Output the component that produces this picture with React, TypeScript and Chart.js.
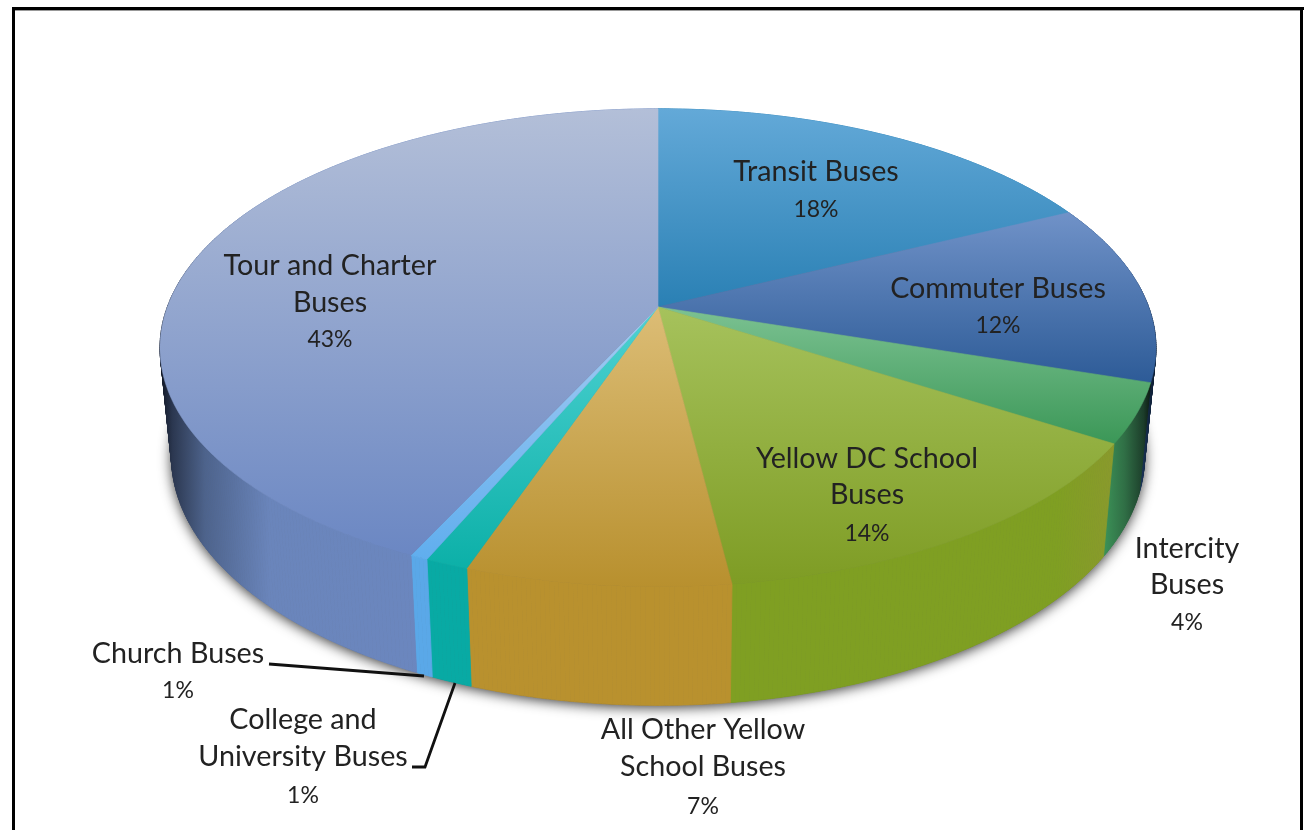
import React, { useEffect, useRef } from "react";
import { Chart, registerables } from "chart.js";

Chart.register(...registerables);

// ---- data ----
const categories = [
  "Transit Buses",
  "Commuter Buses",
  "Intercity Buses",
  "Yellow DC School Buses",
  "All Other Yellow School Buses",
  "College and University Buses",
  "Church Buses",
  "Tour and Charter Buses",
];
const shares = [17.8, 12.2, 4, 14, 7.3, 1.2, 0.5, 43];
const nameLines = [
  ["Transit Buses"],
  ["Commuter Buses"],
  ["Intercity", "Buses"],
  ["Yellow DC School", "Buses"],
  ["All Other Yellow", "School Buses"],
  ["College and", "University Buses"],
  ["Church Buses"],
  ["Tour and Charter", "Buses"],
];

// ---- styles ----
const topLight = ["#63a9d8", "#7092c8", "#7cc292", "#a6c25c", "#dcbd76", "#4fd2d2", "#a4ccf2", "#b3bfd8"];
const topDark = ["#2a80b4", "#2d5b97", "#3b9757", "#7e9c24", "#b8902e", "#0cb0a8", "#60aeee", "#6b87c3"];
const wallStops: [number, string][][] = [
  [[0, "#2a80b4"], [1, "#2a80b4"]],
  [[0, "#2d5b97"], [0.7, "#24487a"], [1, "#0d1c30"]],
  [[0, "#3c9458"], [0.45, "#2f6f45"], [0.85, "#1c3d2a"], [1, "#0c1a12"]],
  [[0, "#7f9f22"], [0.85, "#7f9f22"], [1, "#8a9a2c"]],
  [[0, "#b9912e"], [1, "#b9912e"]],
  [[0, "#08aaa4"], [1, "#08aaa4"]],
  [[0, "#5aa8e8"], [1, "#5aa8e8"]],
  [[0, "#0f1522"], [0.025, "#2b3750"], [0.09, "#4d638c"], [0.22, "#6a85bb"], [1, "#6d89c4"]],
];
const labelPlace: [number, number[]][] = [
  [816, [172, 210]],
  [998, [289, 326]],
  [1187, [549, 585, 623]],
  [867, [459, 495, 534]],
  [703, [730, 767, 807]],
  [303, [720, 757, 796]],
  [178, [654, 691]],
  [330, [266, 303, 340]],
];

// ---- perspective of the disc ----
const CX = 658;
const P = 0.1705;
const topDisc = { cy: 307, rx: 490.7, ry: 232 };
const baseDisc = { cy: 414, rx: 479.4, ry: 241.7 };

function project(disc: typeof topDisc, angle: number): [number, number] {
  const th = angle + Math.PI / 2;
  const w = 1 + P * Math.cos(th);
  return [CX + (disc.rx * Math.sin(th)) / w, disc.cy - (disc.ry * Math.cos(th)) / w];
}

function arcPoints(disc: typeof topDisc, a0: number, a1: number) {
  const n = Math.max(4, Math.ceil(Math.abs(a1 - a0) * 120));
  const pts: [number, number][] = [];
  for (let i = 0; i <= n; i++) pts.push(project(disc, a0 + ((a1 - a0) * i) / n));
  return pts;
}

function trace(ctx: CanvasRenderingContext2D, pts: [number, number][]) {
  ctx.beginPath();
  pts.forEach((p, i) => (i ? ctx.lineTo(p[0], p[1]) : ctx.moveTo(p[0], p[1])));
  ctx.closePath();
}

const disc3d = {
  id: "disc3d",
  beforeDatasetsDraw(chart: any) {
    const ctx: CanvasRenderingContext2D = chart.ctx;
    const arcs = chart.getDatasetMeta(0).data;
    ctx.save();

    // soft shadow under the disc
    ctx.save();
    ctx.shadowColor = "rgba(0,0,0,0.8)";
    ctx.shadowBlur = 13;
    ctx.shadowOffsetX = 0;
    ctx.shadowOffsetY = 2;
    ctx.fillStyle = "#555";
    trace(ctx, arcPoints(baseDisc, -Math.PI / 2, Math.PI * 1.5));
    ctx.fill();
    ctx.restore();

    // walls: a strip of quads between the rim and the base, so the silhouette is the full hull
    arcs.forEach((arc: any, i: number) => {
      const top = arcPoints(topDisc, arc.startAngle, arc.endAngle);
      const low = arcPoints(baseDisc, arc.startAngle, arc.endAngle);
      const xs = top.concat(low).map((p) => p[0]);
      const g = ctx.createLinearGradient(Math.min(...xs), 0, Math.max(...xs) + 0.01, 0);
      wallStops[i].forEach(([s, c]) => g.addColorStop(s, c));
      ctx.fillStyle = g;
      ctx.strokeStyle = g;
      ctx.lineWidth = 0.8;
      for (let k = 0; k < top.length - 1; k++) {
        trace(ctx, [top[k], top[k + 1], low[k + 1], low[k]]);
        ctx.fill();
        ctx.stroke();
      }
    });

    // top faces
    arcs.forEach((arc: any, i: number) => {
      const rim = arcPoints(topDisc, arc.startAngle, arc.endAngle);
      const centre: [number, number] = [CX, topDisc.cy];
      const poly = [centre, ...rim];
      const ys = poly.map((p) => p[1]);
      const g = ctx.createLinearGradient(0, Math.min(...ys), 0, Math.max(...ys));
      g.addColorStop(0, topLight[i]);
      g.addColorStop(1, topDark[i]);
      ctx.fillStyle = g;
      trace(ctx, poly);
      ctx.fill();
      ctx.strokeStyle = g;
      ctx.lineWidth = 0.6;
      ctx.stroke();
    });
    ctx.restore();
    return false;
  },
  afterDraw(chart: any) {
    const ctx: CanvasRenderingContext2D = chart.ctx;
    const values: number[] = chart.data.datasets[0].data;
    ctx.save();

    // frame
    ctx.fillStyle = "#000";
    ctx.fillRect(12, 7, 1292, 3);
    ctx.fillRect(12, 7, 3, 823);
    ctx.fillRect(1300, 7, 3, 823);
    ctx.fillStyle = "#999";
    ctx.fillRect(15, 10, 1285, 1);

    // leader lines
    ctx.strokeStyle = "#111";
    ctx.lineWidth = 2.8;
    ctx.beginPath();
    ctx.moveTo(269, 664);
    ctx.lineTo(424, 676);
    ctx.moveTo(412, 767);
    ctx.lineTo(425, 767);
    ctx.lineTo(455, 683);
    ctx.stroke();

    // labels
    ctx.fillStyle = "#222";
    ctx.textAlign = "center";
    ctx.textBaseline = "middle";
    nameLines.forEach((lines, i) => {
      const [x, ys] = labelPlace[i];
      const rows = [...lines, Math.round(values[i]) + "%"];
      rows.forEach((t, k) => {
        ctx.font = (k === rows.length - 1 ? "23px" : "28.7px") + ' Lato, "Open Sans", sans-serif';
        ctx.fillText(t, x, ys[k]);
      });
    });
    ctx.restore();
  },
};

export default function App() {
  const ref = useRef<HTMLCanvasElement | null>(null);
  useEffect(() => {
    document.body.style.margin = "0";
    document.body.style.background = "#fff";
    const chart = new Chart(ref.current as HTMLCanvasElement, {
      type: "pie",
      data: {
        labels: categories,
        datasets: [{ data: shares, backgroundColor: topDark, borderWidth: 0 }],
      },
      options: {
        animation: false,
        responsive: false,
        devicePixelRatio: 1,
        plugins: { legend: { display: false }, tooltip: { enabled: false } },
      },
      plugins: [disc3d as any],
    });
    return () => chart.destroy();
  }, []);
  return (
    <div style={{ position: "absolute", left: 0, top: 0, width: 1305, height: 830, overflow: "hidden", background: "#fff" }}>
      <canvas ref={ref} width={1305} height={830} style={{ display: "block", width: 1305, height: 830 }} />
    </div>
  );
}
